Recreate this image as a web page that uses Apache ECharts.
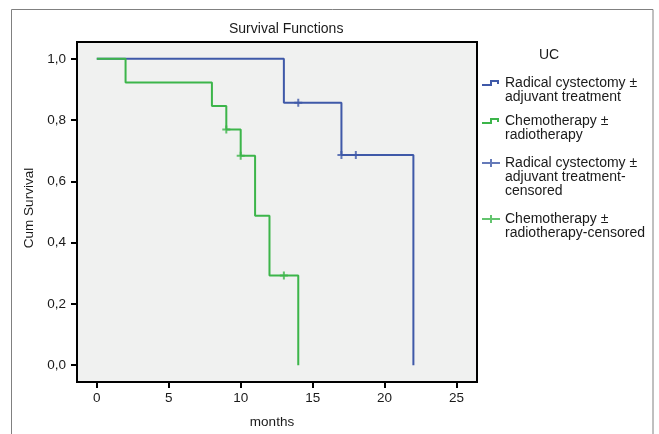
<!DOCTYPE html>
<html>
<head>
<meta charset="utf-8">
<script src="https://cdn.jsdelivr.net/npm/echarts@6/dist/echarts.min.js"></script>
<style>
  html, body { margin: 0; padding: 0; background: #fff; }
  #chart { width: 659px; height: 434px; }
</style>
</head>
<body>
<div id="chart"></div>
<script>
// Kaplan-Meier steps (time, survival after the event)
const rcTime = [0, 13, 17, 22]
const rcSurv = [1.0, 0.857, 0.686, 0.0]
const ctTime = [0, 2, 8, 9, 10, 11, 12, 14]
const ctSurv = [1.0, 0.923, 0.846, 0.769, 0.684, 0.488, 0.293, 0.0]

// censored observations
const rcCensTime = [14, 17, 18]
const rcCensSurv = [0.857, 0.686, 0.686]
const ctCensTime = [9, 10, 13]
const ctCensSurv = [0.769, 0.684, 0.293]

const xTicks = [0, 5, 10, 15, 20, 25]
const yTicks = [0, 0.2, 0.4, 0.6, 0.8, 1.0]

const seriesNames = [
  'Radical cystectomy ± adjuvant treatment',
  'Chemotherapy ± radiotherapy',
  'Radical cystectomy ± adjuvant treatment-censored',
  'Chemotherapy ± radiotherapy-censored'
]
const legendLabels = [
  'Radical cystectomy ±\nadjuvant treatment',
  'Chemotherapy ±\nradiotherapy',
  'Radical cystectomy ±\nadjuvant treatment-\ncensored',
  'Chemotherapy ±\nradiotherapy-censored'
]

const blue = '#3f59a8'
const green = '#3cb54a'
const textColor = '#1a1a1a'
const font = 'Liberation Sans, Arial, sans-serif'

const zip = (xs, ys) => xs.map((x, i) => [x, ys[i]])

// legend icons: visible glyph on the first text line, invisible points set the box
const lineH = 14
function stepIcon(lines) {
  return 'path://M0,9 H9 V5 H16 V8 M0,0 M18,' + lines * lineH
}
function plusIcon(lines) {
  return 'path://M0,7 H18 M9,3 V11 M0,0 M18,' + lines * lineH
}

const legendTops = [75, 113, 155, 211]
const legendLines = [2, 2, 3, 2]
const legendColors = [blue, green, blue, green]

const legends = seriesNames.map((name, i) => ({
  left: 481,
  top: legendTops[i],
  orient: 'vertical',
  padding: 0,
  itemWidth: 18,
  itemHeight: legendLines[i] * lineH,
  symbolKeepAspect: false,
  selectedMode: false,
  textStyle: { fontFamily: font, fontSize: 14, color: textColor, lineHeight: lineH },
  formatter: (n) => legendLabels[seriesNames.indexOf(n)],
  data: [{
    name,
    icon: i < 2 ? stepIcon(legendLines[i]) : plusIcon(legendLines[i]),
    itemStyle: { color: 'rgba(0,0,0,0)', borderColor: legendColors[i], borderWidth: 2 }
  }]
}))

const censorSymbol = 'path://M0,4 H8 M4,0 V8'

const chart = echarts.init(document.getElementById('chart'))
chart.setOption({
  animation: false,
  backgroundColor: '#fff',
  textStyle: { fontFamily: font },
  title: [
    {
      text: 'Survival Functions',
      left: 229,
      top: 22,
      padding: 0,
      textStyle: { fontFamily: font, fontSize: 14, fontWeight: 'normal', color: textColor }
    },
    {
      text: 'UC',
      left: 539,
      top: 48,
      padding: 0,
      textStyle: { fontFamily: font, fontSize: 14, fontWeight: 'normal', color: textColor }
    }
  ],
  legend: legends,
  graphic: [{
    type: 'rect',
    silent: true,
    shape: { x: 11.5, y: 9.5, width: 641.5, height: 440 },
    style: { fill: 'none', stroke: '#808080', lineWidth: 1 }
  }],
  grid: {
    left: 77,
    right: 182,
    top: 42,
    bottom: 51,
    show: true,
    backgroundColor: '#f0f1f0',
    borderColor: '#000',
    borderWidth: 2
  },
  xAxis: {
    type: 'value',
    min: -1.375,
    max: 26.42,
    name: 'months',
    nameLocation: 'middle',
    nameGap: 33,
    nameTextStyle: { fontFamily: font, fontSize: 13.5, color: textColor, padding: [0, 10, 0, 0] },
    axisLine: { show: true, onZero: false, lineStyle: { color: '#000', width: 2 } },
    axisTick: { show: true, length: 6, lineStyle: { color: '#000', width: 2 }, customValues: xTicks },
    axisLabel: { fontFamily: font, fontSize: 13.5, color: textColor, margin: 9, customValues: xTicks },
    splitLine: { show: false }
  },
  yAxis: {
    type: 'value',
    min: -0.055,
    max: 1.055,
    name: 'Cum Survival',
    nameLocation: 'middle',
    nameGap: 34,
    nameTextStyle: { fontFamily: font, fontSize: 13.5, color: textColor, padding: [0, 0, 0, 8] },
    axisLine: { show: true, onZero: false, lineStyle: { color: '#000', width: 2 } },
    axisTick: { show: true, length: 6, lineStyle: { color: '#000', width: 2 }, customValues: yTicks },
    axisLabel: {
      fontFamily: font,
      fontSize: 13.5,
      color: textColor,
      margin: 11,
      customValues: yTicks,
      formatter: (v) => v.toFixed(1).replace('.', ',')
    },
    splitLine: { show: false }
  },
  series: [
    {
      name: seriesNames[0],
      type: 'line',
      step: 'end',
      symbol: 'none',
      data: zip(rcTime, rcSurv),
      itemStyle: { color: blue },
      lineStyle: { color: blue, width: 2 }
    },
    {
      name: seriesNames[1],
      type: 'line',
      step: 'end',
      symbol: 'none',
      data: zip(ctTime, ctSurv),
      itemStyle: { color: green },
      lineStyle: { color: green, width: 2 }
    },
    {
      name: seriesNames[2],
      type: 'scatter',
      symbol: censorSymbol,
      symbolSize: 8,
      data: zip(rcCensTime, rcCensSurv),
      itemStyle: { color: 'rgba(0,0,0,0)', borderColor: blue, borderWidth: 2 }
    },
    {
      name: seriesNames[3],
      type: 'scatter',
      symbol: censorSymbol,
      symbolSize: 8,
      data: zip(ctCensTime, ctCensSurv),
      itemStyle: { color: 'rgba(0,0,0,0)', borderColor: green, borderWidth: 2 }
    }
  ]
})
</script>
</body>
</html>
